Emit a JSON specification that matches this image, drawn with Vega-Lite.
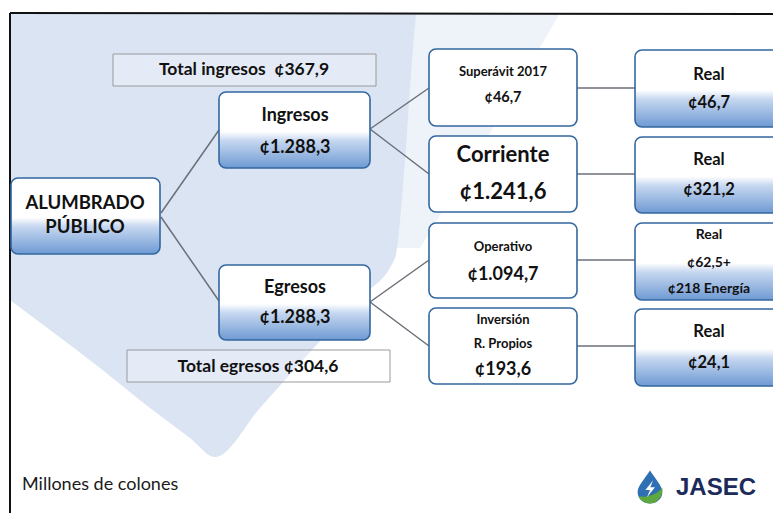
{
  "$schema": "https://vega.github.io/schema/vega-lite/v6.json",
  "width": 773,
  "height": 513,
  "padding": 0,
  "autosize": {"type": "none"},
  "background": "#ffffff",
  "config": {
    "view": {"stroke": null},
    "axis": {"disable": true},
    "legend": {"disable": true},
    "text": {"font": "Lato"}
  },
  "datasets": {
    "bg": [
      {"x": 10, "top": 13, "bottom": 300},
      {"x": 50, "top": 13, "bottom": 330},
      {"x": 100, "top": 13, "bottom": 368},
      {"x": 150, "top": 13, "bottom": 408},
      {"x": 190, "top": 13, "bottom": 438},
      {"x": 215, "top": 13, "bottom": 457},
      {"x": 260, "top": 13, "bottom": 408},
      {"x": 310, "top": 13, "bottom": 352},
      {"x": 360, "top": 13, "bottom": 298},
      {"x": 395, "top": 13, "bottom": 258},
      {"x": 405, "top": 13, "bottom": 160},
      {"x": 412, "top": 13, "bottom": 60},
      {"x": 416, "top": 13, "bottom": 13}
    ],
    "bgfaint": [
      {"x": 10, "top": 13, "bottom": 248},
      {"x": 420, "top": 13, "bottom": 248},
      {"x": 480, "top": 13, "bottom": 150},
      {"x": 560, "top": 13, "bottom": 13}
    ],
    "frame": [
      {"x1": 10, "y1": 13, "x2": 773, "y2": 14},
      {"x1": 10, "y1": 13, "x2": 10, "y2": 513}
    ],
    "links": [
      {"x1": 161, "y1": 213, "x2": 219, "y2": 130},
      {"x1": 161, "y1": 217, "x2": 219, "y2": 301},
      {"x1": 370, "y1": 129, "x2": 429, "y2": 88},
      {"x1": 370, "y1": 129, "x2": 429, "y2": 174},
      {"x1": 370, "y1": 302, "x2": 429, "y2": 260},
      {"x1": 370, "y1": 302, "x2": 429, "y2": 346},
      {"x1": 577, "y1": 88, "x2": 635, "y2": 88},
      {"x1": 577, "y1": 174, "x2": 635, "y2": 174},
      {"x1": 577, "y1": 260, "x2": 635, "y2": 260},
      {"x1": 577, "y1": 346, "x2": 635, "y2": 346}
    ],
    "totals": [
      {"node": "Total ingresos", "x1": 113, "x2": 376, "y1": 54, "y2": 86},
      {"node": "Total egresos", "x1": 127, "x2": 390, "y1": 350, "y2": 382}
    ],
    "gradBoxes": [
      {"node": "Alumbrado público", "x1": 11, "x2": 160, "y1": 178, "y2": 254},
      {"node": "Ingresos", "x1": 219, "x2": 370, "y1": 92, "y2": 168},
      {"node": "Egresos", "x1": 219, "x2": 370, "y1": 265, "y2": 340},
      {"node": "Real superávit", "x1": 635, "x2": 790, "y1": 50, "y2": 127},
      {"node": "Real corriente", "x1": 635, "x2": 790, "y1": 137, "y2": 213},
      {"node": "Real operativo", "x1": 635, "x2": 790, "y1": 223, "y2": 300},
      {"node": "Real inversión", "x1": 635, "x2": 790, "y1": 309, "y2": 386}
    ],
    "plainBoxes": [
      {"node": "Superávit 2017", "x1": 429, "x2": 577, "y1": 49, "y2": 126},
      {"node": "Corriente", "x1": 429, "x2": 577, "y1": 136, "y2": 212},
      {"node": "Operativo", "x1": 429, "x2": 577, "y1": 223, "y2": 298},
      {"node": "Inversión", "x1": 429, "x2": 577, "y1": 308, "y2": 384}
    ],
    "labels": [
      {"label": "Total ingresos\u00a0\u00a0¢367,9", "cx": 244, "cy": 70, "role": "total"},
      {"label": "Ingresos", "cx": 295, "cy": 116, "role": "mid"},
      {"label": "¢1.288,3", "cx": 295, "cy": 148, "role": "mid"},
      {"label": "ALUMBRADO", "cx": 85, "cy": 203, "role": "root"},
      {"label": "PÚBLICO", "cx": 85, "cy": 227, "role": "root"},
      {"label": "Egresos", "cx": 295, "cy": 288, "role": "mid"},
      {"label": "¢1.288,3", "cx": 295, "cy": 318, "role": "mid"},
      {"label": "Total egresos ¢304,6", "cx": 258, "cy": 367, "role": "total"},
      {"label": "Superávit 2017", "cx": 503, "cy": 72, "role": "small"},
      {"label": "¢46,7", "cx": 503, "cy": 98, "role": "smallval"},
      {"label": "Corriente", "cx": 503, "cy": 155, "role": "big"},
      {"label": "¢1.241,6", "cx": 503, "cy": 192, "role": "big"},
      {"label": "Operativo", "cx": 503, "cy": 247, "role": "small"},
      {"label": "¢1.094,7", "cx": 503, "cy": 275, "role": "mid"},
      {"label": "Inversión", "cx": 503, "cy": 320, "role": "small"},
      {"label": "R. Propios", "cx": 503, "cy": 344, "role": "small"},
      {"label": "¢193,6", "cx": 503, "cy": 370, "role": "mid"},
      {"label": "Real", "cx": 709, "cy": 75, "role": "real"},
      {"label": "¢46,7", "cx": 709, "cy": 103, "role": "real"},
      {"label": "Real", "cx": 709, "cy": 160, "role": "real"},
      {"label": "¢321,2", "cx": 709, "cy": 190, "role": "real"},
      {"label": "Real", "cx": 709, "cy": 235, "role": "realsmall"},
      {"label": "¢62,5+", "cx": 709, "cy": 263, "role": "realsmall"},
      {"label": "¢218 Energía", "cx": 709, "cy": 289, "role": "realsmall"},
      {"label": "Real", "cx": 709, "cy": 332, "role": "real"},
      {"label": "¢24,1", "cx": 709, "cy": 363, "role": "real"}
    ],
    "note": [
      {"label": "Millones de colones", "cx": 22, "cy": 485}
    ],
    "logo": [
      {"label": "JASEC", "cx": 650, "cy": 487, "tx": 716, "ty": 488}
    ]
  },
  "encoding": {},
  "layer": [
    {
      "data": {"name": "bgfaint"},
      "mark": {"type": "area", "color": "#eef2f9", "opacity": 1},
      "encoding": {
        "x": {"field": "x", "type": "quantitative", "scale": {"domain": [0, 773], "nice": false, "zero": false}},
        "y": {"field": "top", "type": "quantitative", "scale": {"domain": [0, 513], "reverse": true, "nice": false, "zero": false}},
        "y2": {"field": "bottom"}
      }
    },
    {
      "data": {"name": "bg"},
      "mark": {"type": "area", "color": "#dbe4f3", "opacity": 1, "interpolate": "monotone"},
      "encoding": {
        "x": {"field": "x", "type": "quantitative", "scale": {"domain": [0, 773], "nice": false, "zero": false}},
        "y": {"field": "top", "type": "quantitative", "scale": {"domain": [0, 513], "reverse": true, "nice": false, "zero": false}},
        "y2": {"field": "bottom"}
      }
    },
    {
      "data": {"name": "frame"},
      "mark": {"type": "rule", "color": "#111111", "strokeWidth": 2},
      "encoding": {
        "x": {"field": "x1", "type": "quantitative", "scale": {"domain": [0, 773], "nice": false, "zero": false}},
        "y": {"field": "y1", "type": "quantitative", "scale": {"domain": [0, 513], "reverse": true, "nice": false, "zero": false}},
        "x2": {"field": "x2"},
        "y2": {"field": "y2"}
      }
    },
    {
      "data": {"name": "links"},
      "mark": {"type": "rule", "color": "#6b6f78", "strokeWidth": 1.5},
      "encoding": {
        "x": {"field": "x1", "type": "quantitative", "scale": {"domain": [0, 773], "nice": false, "zero": false}},
        "y": {"field": "y1", "type": "quantitative", "scale": {"domain": [0, 513], "reverse": true, "nice": false, "zero": false}},
        "x2": {"field": "x2"},
        "y2": {"field": "y2"}
      }
    },
    {
      "data": {"name": "totals"},
      "mark": {"type": "rect", "fill": "#ffffff", "fillOpacity": 0.25, "stroke": "#9a9a9a", "strokeWidth": 1},
      "encoding": {
        "x": {"field": "x1", "type": "quantitative", "scale": {"domain": [0, 773], "nice": false, "zero": false}},
        "y": {"field": "y1", "type": "quantitative", "scale": {"domain": [0, 513], "reverse": true, "nice": false, "zero": false}},
        "x2": {"field": "x2"},
        "y2": {"field": "y2"}
      }
    },
    {
      "data": {"name": "gradBoxes"},
      "mark": {"type": "rect", "fill": "#2b3a55", "opacity": 0.45, "cornerRadius": 7, "xOffset": 1.5, "yOffset": 2.5},
      "encoding": {
        "x": {"field": "x1", "type": "quantitative", "scale": {"domain": [0, 773], "nice": false, "zero": false}},
        "y": {"field": "y1", "type": "quantitative", "scale": {"domain": [0, 513], "reverse": true, "nice": false, "zero": false}},
        "x2": {"field": "x2"},
        "y2": {"field": "y2"}
      }
    },
    {
      "data": {"name": "plainBoxes"},
      "mark": {"type": "rect", "fill": "#2b3a55", "opacity": 0.4, "cornerRadius": 7, "xOffset": 1.5, "yOffset": 2.5},
      "encoding": {
        "x": {"field": "x1", "type": "quantitative", "scale": {"domain": [0, 773], "nice": false, "zero": false}},
        "y": {"field": "y1", "type": "quantitative", "scale": {"domain": [0, 513], "reverse": true, "nice": false, "zero": false}},
        "x2": {"field": "x2"},
        "y2": {"field": "y2"}
      }
    },
    {
      "data": {"name": "gradBoxes"},
      "mark": {
        "type": "rect",
        "cornerRadius": 7,
        "stroke": "#33679f",
        "strokeWidth": 1.6,
        "fill": {
          "gradient": "linear", "x1": 0, "y1": 0, "x2": 0, "y2": 1,
          "stops": [
            {"offset": 0, "color": "#ffffff"},
            {"offset": 0.52, "color": "#ffffff"},
            {"offset": 0.64, "color": "#c6d7f0"},
            {"offset": 1, "color": "#6e9ad3"}
          ]
        }
      },
      "encoding": {
        "x": {"field": "x1", "type": "quantitative", "scale": {"domain": [0, 773], "nice": false, "zero": false}},
        "y": {"field": "y1", "type": "quantitative", "scale": {"domain": [0, 513], "reverse": true, "nice": false, "zero": false}},
        "x2": {"field": "x2"},
        "y2": {"field": "y2"}
      }
    },
    {
      "data": {"name": "plainBoxes"},
      "mark": {"type": "rect", "cornerRadius": 7, "stroke": "#33679f", "strokeWidth": 1.6, "fill": "#ffffff"},
      "encoding": {
        "x": {"field": "x1", "type": "quantitative", "scale": {"domain": [0, 773], "nice": false, "zero": false}},
        "y": {"field": "y1", "type": "quantitative", "scale": {"domain": [0, 513], "reverse": true, "nice": false, "zero": false}},
        "x2": {"field": "x2"},
        "y2": {"field": "y2"}
      }
    },
    {
      "data": {"name": "labels"},
      "mark": {"type": "text", "font": "Lato", "fontWeight": "bold", "color": "#111111", "align": "center", "baseline": "middle"},
      "encoding": {
        "x": {"field": "cx", "type": "quantitative", "scale": {"domain": [0, 773], "nice": false, "zero": false}},
        "y": {"field": "cy", "type": "quantitative", "scale": {"domain": [0, 513], "reverse": true, "nice": false, "zero": false}},
        "text": {"field": "label"},
        "size": {
          "field": "role", "type": "nominal",
          "scale": {"type": "ordinal",
            "domain": ["root", "mid", "total", "big", "small", "smallval", "real", "realsmall"],
            "range": [18.5, 18, 17.5, 22, 13, 14.5, 16.5, 14]}
        }
      }
    },
    {
      "data": {"name": "note"},
      "mark": {"type": "text", "font": "Lato", "fontSize": 18, "color": "#1a1a1a", "align": "left", "baseline": "middle"},
      "encoding": {
        "x": {"field": "cx", "type": "quantitative", "scale": {"domain": [0, 773], "nice": false, "zero": false}},
        "y": {"field": "cy", "type": "quantitative", "scale": {"domain": [0, 513], "reverse": true, "nice": false, "zero": false}},
        "text": {"field": "label"}
      }
    },
    {
      "data": {"name": "logo"},
      "mark": {"type": "point", "filled": true, "fill": "#2f6fb3", "opacity": 1, "strokeWidth": 0, "size": 1089,
        "shape": "M0,-1 C0.35,-0.45 0.75,-0.05 0.75,0.3 C0.75,0.72 0.4,1 0,1 C-0.4,1 -0.75,0.72 -0.75,0.3 C-0.75,-0.05 -0.35,-0.45 0,-1 Z"},
      "encoding": {
        "x": {"field": "cx", "type": "quantitative", "scale": {"domain": [0, 773], "nice": false, "zero": false}},
        "y": {"field": "cy", "type": "quantitative", "scale": {"domain": [0, 513], "reverse": true, "nice": false, "zero": false}}
      }
    },
    {
      "data": {"name": "logo"},
      "mark": {"type": "point", "filled": true, "fill": "#5fa83e", "opacity": 1, "strokeWidth": 0, "size": 1089,
        "shape": "M0.75,0.05 C0.8,0.5 0.5,1 0,1 C-0.35,1 -0.6,0.8 -0.7,0.55 C-0.2,0.7 0.4,0.45 0.75,0.05 Z"},
      "encoding": {
        "x": {"field": "cx", "type": "quantitative", "scale": {"domain": [0, 773], "nice": false, "zero": false}},
        "y": {"field": "cy", "type": "quantitative", "scale": {"domain": [0, 513], "reverse": true, "nice": false, "zero": false}}
      }
    },
    {
      "data": {"name": "logo"},
      "mark": {"type": "point", "filled": true, "fill": "#ffffff", "opacity": 1, "strokeWidth": 0, "size": 1089,
        "shape": "M0.18,-0.4 L-0.28,0.18 L0.0,0.18 L-0.18,0.62 L0.3,0.02 L0.02,0.02 Z"},
      "encoding": {
        "x": {"field": "cx", "type": "quantitative", "scale": {"domain": [0, 773], "nice": false, "zero": false}},
        "y": {"field": "cy", "type": "quantitative", "scale": {"domain": [0, 513], "reverse": true, "nice": false, "zero": false}}
      }
    },
    {
      "data": {"name": "logo"},
      "mark": {"type": "text", "font": "Liberation Sans", "fontWeight": "bold", "fontSize": 24, "color": "#1c2b5a", "align": "center", "baseline": "middle"},
      "encoding": {
        "x": {"field": "tx", "type": "quantitative", "scale": {"domain": [0, 773], "nice": false, "zero": false}},
        "y": {"field": "ty", "type": "quantitative", "scale": {"domain": [0, 513], "reverse": true, "nice": false, "zero": false}},
        "text": {"field": "label"}
      }
    }
  ]
}
